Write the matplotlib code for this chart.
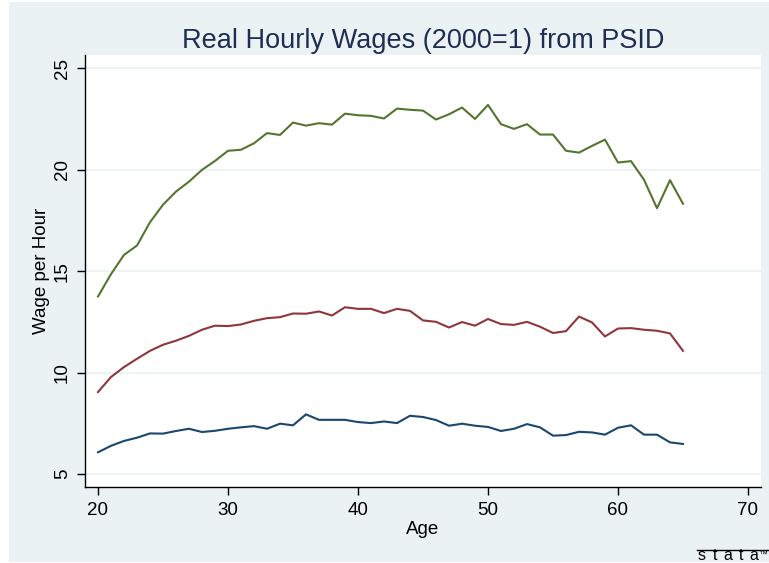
import matplotlib
matplotlib.use("Agg")
import matplotlib.pyplot as plt
from matplotlib.patches import Rectangle
from matplotlib.lines import Line2D

plt.rcParams["font.family"] = ["Liberation Sans", "DejaVu Sans"]

# Data
ages = list(range(20, 66))

top_wage = [13.76, 14.86, 15.81, 16.27, 17.42, 18.28, 18.93, 19.42, 20.0, 20.44,
            20.94, 20.99, 21.31, 21.81, 21.72, 22.33, 22.18, 22.30, 22.23, 22.77,
            22.69, 22.66, 22.53, 23.02, 22.96, 22.92, 22.48, 22.74, 23.07, 22.51,
            23.20, 22.25, 22.02, 22.25, 21.74, 21.74, 20.94, 20.85, 21.18, 21.49,
            20.36, 20.43, 19.51, 18.11, 19.49, 18.33]

mid_wage = [9.05, 9.79, 10.28, 10.69, 11.08, 11.38, 11.58, 11.82, 12.12, 12.32,
            12.30, 12.38, 12.56, 12.69, 12.74, 12.92, 12.91, 13.02, 12.82, 13.23,
            13.15, 13.15, 12.94, 13.15, 13.05, 12.58, 12.51, 12.23, 12.50, 12.32,
            12.65, 12.40, 12.36, 12.51, 12.27, 11.96, 12.05, 12.77, 12.48, 11.79,
            12.18, 12.20, 12.12, 12.07, 11.94, 11.08]

low_wage = [6.08, 6.40, 6.64, 6.80, 7.01, 7.00, 7.13, 7.24, 7.08, 7.14,
            7.24, 7.31, 7.37, 7.24, 7.49, 7.41, 7.95, 7.68, 7.68, 7.68,
            7.57, 7.52, 7.60, 7.52, 7.88, 7.82, 7.67, 7.39, 7.49, 7.39,
            7.33, 7.13, 7.24, 7.47, 7.31, 6.90, 6.93, 7.09, 7.06, 6.95,
            7.29, 7.41, 6.95, 6.95, 6.57, 6.49]

x_ticks = [20, 30, 40, 50, 60, 70]
y_ticks = [5, 10, 15, 20, 25]

bg = "#eaf2f3"
W, H = 769, 563

fig = plt.figure(figsize=(W / 100, H / 100), dpi=100, facecolor="white")
# stata graph region, behind everything
fig.patches.append(Rectangle((9 / W, 1 / H), (W - 9) / W, 560 / H,
                             transform=fig.transFigure, facecolor=bg,
                             edgecolor="none", zorder=-10))

ax = fig.add_axes([85 / W, 1 - 487 / H, (761 - 85) / W, (487 - 55) / H])
ax.set_facecolor("white")

ax.plot(ages, top_wage, color="#55752f", lw=1.5)
ax.plot(ages, mid_wage, color="#90353b", lw=1.5)
ax.plot(ages, low_wage, color="#1a476f", lw=1.5)

ax.set_xlim(19, 71)
ax.set_ylim(4.37, 25.66)
ax.set_xticks(x_ticks)
ax.set_yticks(y_ticks)
ax.grid(axis="y", color=bg, lw=1.2)
ax.set_axisbelow(True)

for s in ["top", "right"]:
    ax.spines[s].set_visible(False)
for s in ["left", "bottom"]:
    ax.spines[s].set_color("black")
    ax.spines[s].set_linewidth(1.0)

ax.tick_params(axis="both", length=6, width=1, labelsize=13.5, color="black")
ax.tick_params(axis="x", pad=5)
ax.tick_params(axis="y", pad=4)
for lbl in ax.get_yticklabels():
    lbl.set_rotation(90)
    lbl.set_va("center")

ax.set_xlabel("Age", fontsize=13.5, labelpad=1)
ax.set_ylabel("Wage per Hour", fontsize=13.5, labelpad=3)
ax.set_title("Real Hourly Wages (2000=1) from PSID", fontsize=19.5,
             color="#1f2d55", pad=5)

# stata mark
for ch, cx in zip("stata", [702, 715, 728, 741, 754]):
    fig.text(cx / W, 1 - 556 / H, ch, fontsize=11.5, ha="center",
             va="center", color="black")
fig.text(767 / W, 1 - 554 / H, "\u2122", fontsize=6.5, ha="right",
         va="center", color="black")
fig.lines.append(Line2D([697 / W, 769 / W], [1 - 550 / H, 1 - 550 / H],
                        transform=fig.transFigure, color="black", lw=1))

fig.savefig("out.png", dpi=100, facecolor="white")
